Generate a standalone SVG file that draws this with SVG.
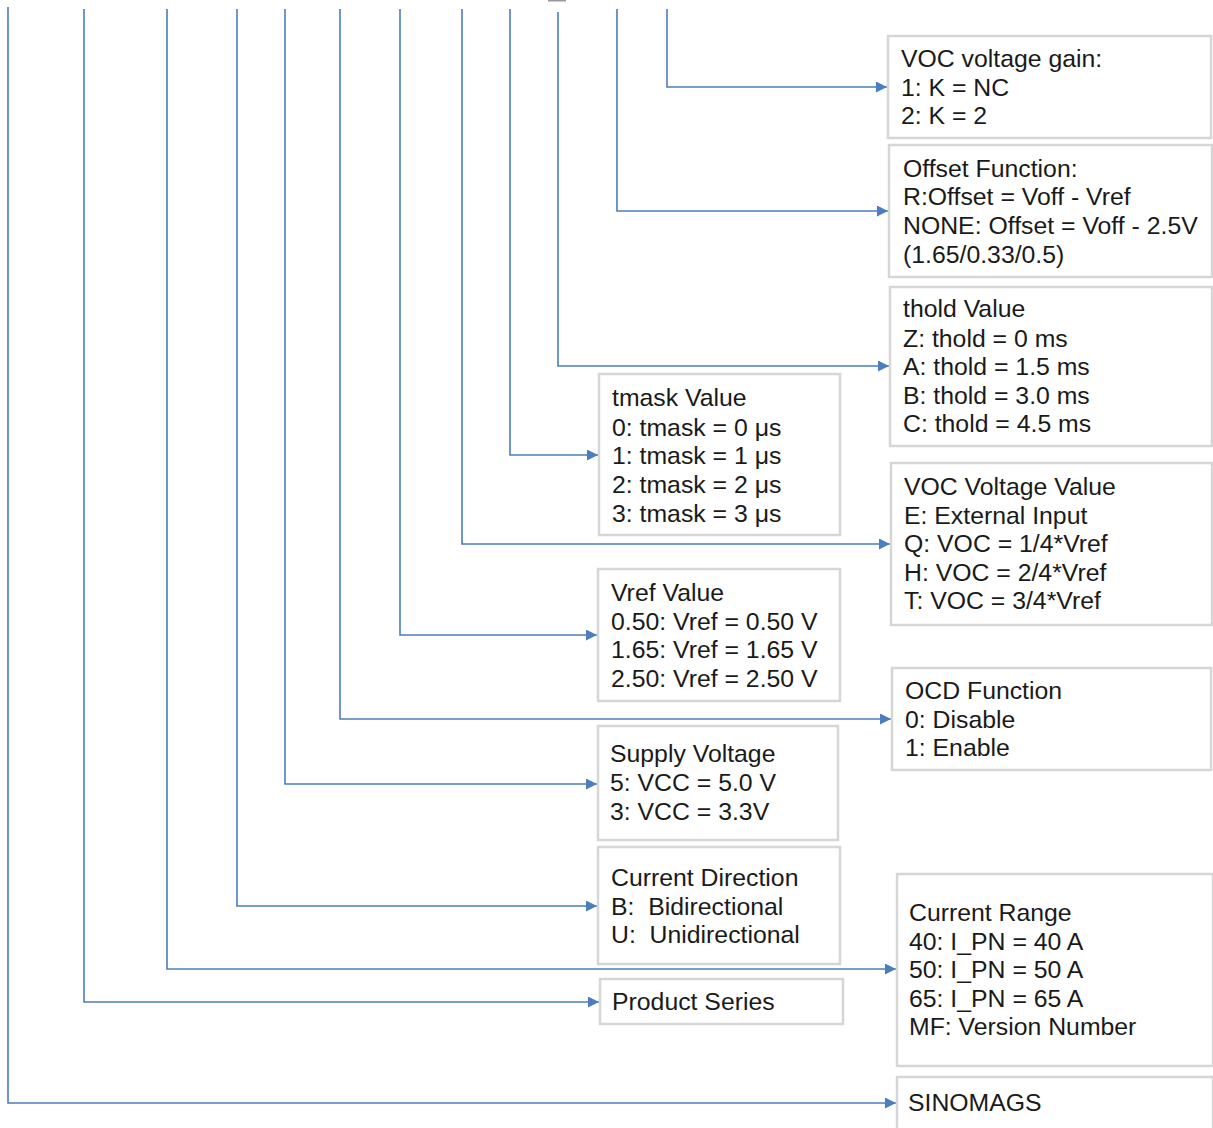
<svg xmlns="http://www.w3.org/2000/svg" width="1213" height="1128" viewBox="0 0 1213 1128">
<defs>
<marker id="arr" markerUnits="userSpaceOnUse" markerWidth="11" markerHeight="11" refX="11" refY="5.5" orient="auto">
<path d="M0,0 L11,5.5 L0,11 z" fill="#4a7ebf"/>
</marker>
<style>
.box{fill:#fff;stroke:#d6d6d6;stroke-width:2.5}
.t{font-family:"Liberation Sans",Arial,sans-serif;font-size:24.8px;fill:#1a1a1a;white-space:pre}
.c{fill:none;stroke:#4a7ebf;stroke-width:1.6;marker-end:url(#arr)}
</style>
</defs>
<rect width="1213" height="1128" fill="#fff"/>
<rect x="548" y="0" width="18" height="1.5" fill="#999"/>
<g id="connectors">
<path class="c" d="M667,9 V87 H887"/>
<path class="c" d="M617,9 V211 H888"/>
<path class="c" d="M558,12 V366 H889"/>
<path class="c" d="M510,9 V455 H598"/>
<path class="c" d="M462,9 V544 H890"/>
<path class="c" d="M400,9 V635 H597"/>
<path class="c" d="M340,9 V719 H891"/>
<path class="c" d="M285,9 V784 H597"/>
<path class="c" d="M237,9 V906 H597"/>
<path class="c" d="M167,9 V969 H896"/>
<path class="c" d="M84,9 V1002 H599"/>
<path class="c" d="M8,7 V1103 H896"/>
</g>
<g id="voc-gain">
<rect class="box" x="888" y="36" width="323" height="102"/>
<text class="t" x="901" y="67">VOC voltage gain:</text>
<text class="t" x="901" y="96">1: K = NC</text>
<text class="t" x="901" y="124">2: K = 2</text>
</g>
<g id="offset">
<rect class="box" x="889" y="145" width="323" height="132"/>
<text class="t" x="903" y="177">Offset Function:</text>
<text class="t" x="903" y="205">R:Offset = Voff - Vref</text>
<text class="t" x="903" y="234">NONE: Offset = Voff - 2.5V</text>
<text class="t" x="903" y="263">(1.65/0.33/0.5)</text>
</g>
<g id="thold">
<rect class="box" x="890" y="287" width="322" height="159"/>
<text class="t" x="903" y="317">thold Value</text>
<text class="t" x="903" y="347">Z: thold = 0 ms</text>
<text class="t" x="903" y="375">A: thold = 1.5 ms</text>
<text class="t" x="903" y="404">B: thold = 3.0 ms</text>
<text class="t" x="903" y="432">C: thold = 4.5 ms</text>
</g>
<g id="tmask">
<rect class="box" x="599" y="374" width="241" height="161"/>
<text class="t" x="612" y="406">tmask Value</text>
<text class="t" x="612" y="436">0: tmask = 0 μs</text>
<text class="t" x="612" y="464">1: tmask = 1 μs</text>
<text class="t" x="612" y="493">2: tmask = 2 μs</text>
<text class="t" x="612" y="522">3: tmask = 3 μs</text>
</g>
<g id="voc-value">
<rect class="box" x="891" y="463" width="321" height="162"/>
<text class="t" x="904" y="495">VOC Voltage Value</text>
<text class="t" x="904" y="524">E: External Input</text>
<text class="t" x="904" y="552">Q: VOC = 1/4*Vref</text>
<text class="t" x="904" y="581">H: VOC = 2/4*Vref</text>
<text class="t" x="904" y="609">T: VOC = 3/4*Vref</text>
</g>
<g id="vref">
<rect class="box" x="598" y="569" width="242" height="132"/>
<text class="t" x="611" y="601">Vref Value</text>
<text class="t" x="611" y="630">0.50: Vref = 0.50 V</text>
<text class="t" x="611" y="658">1.65: Vref = 1.65 V</text>
<text class="t" x="611" y="687">2.50: Vref = 2.50 V</text>
</g>
<g id="ocd">
<rect class="box" x="892" y="668" width="319" height="102"/>
<text class="t" x="905" y="699">OCD Function</text>
<text class="t" x="905" y="728">0: Disable</text>
<text class="t" x="905" y="756">1: Enable</text>
</g>
<g id="supply">
<rect class="box" x="598" y="726" width="240" height="114"/>
<text class="t" x="610" y="762">Supply Voltage</text>
<text class="t" x="610" y="791">5: VCC = 5.0 V</text>
<text class="t" x="610" y="820">3: VCC = 3.3V</text>
</g>
<g id="direction">
<rect class="box" x="598" y="847" width="242" height="117"/>
<text class="t" x="611" y="886">Current Direction</text>
<text class="t" x="611" y="915">B:  Bidirectional</text>
<text class="t" x="611" y="943">U:  Unidirectional</text>
</g>
<g id="range">
<rect class="box" x="897" y="874" width="316" height="192"/>
<text class="t" x="909" y="921">Current Range</text>
<text class="t" x="909" y="950">40: I_PN = 40 A</text>
<text class="t" x="909" y="978">50: I_PN = 50 A</text>
<text class="t" x="909" y="1007">65: I_PN = 65 A</text>
<text class="t" x="909" y="1035">MF: Version Number</text>
</g>
<g id="series">
<rect class="box" x="600" y="979" width="243" height="45"/>
<text class="t" x="612" y="1010">Product Series</text>
</g>
<g id="sinomags">
<rect class="box" x="897" y="1077" width="316" height="60"/>
<text class="t" x="908" y="1111">SINOMAGS</text>
</g>
</svg>
